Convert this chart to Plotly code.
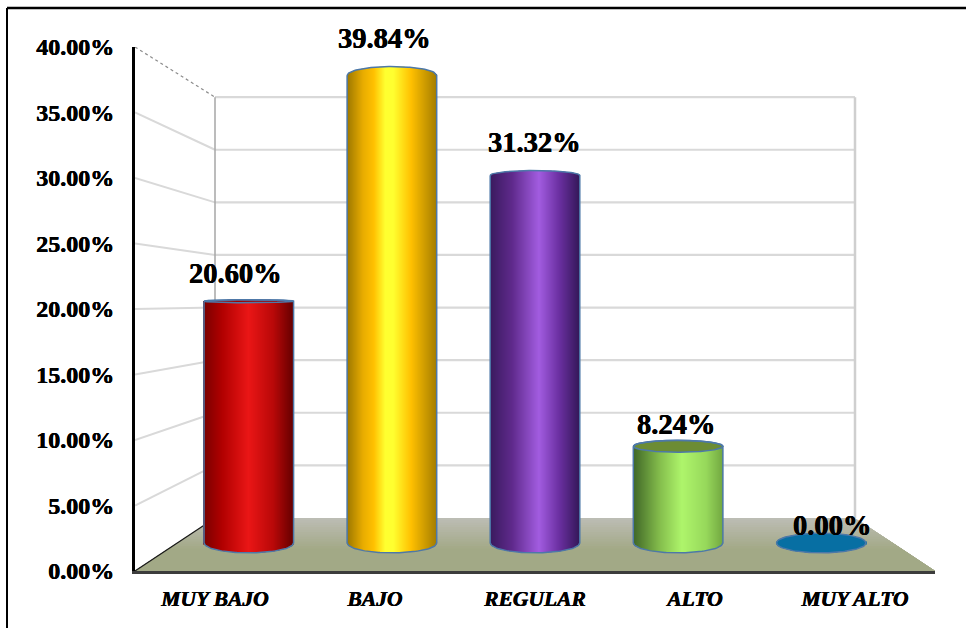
import numpy as np
import plotly.graph_objects as go

# Survey result: share of respondents per level
CATEGORIES = ["MUY BAJO", "BAJO", "REGULAR", "ALTO", "MUY ALTO"]
PERCENTAGES = [20.60, 39.84, 31.32, 8.24, 0.00]
Y_TICKS = [0, 5, 10, 15, 20, 25, 30, 35, 40]
Y_TICK_LABELS = ["0.00%", "5.00%", "10.00%", "15.00%", "20.00%", "25.00%", "30.00%", "35.00%", "40.00%"]

# Label offsets from the top of each cylinder, in pixels
LABEL_DX = [-13, -7, -1, -2, 11]

# Cylinder shading: (position across the body, colour), plus top-cap colour
SHADES = [
    ([(0, "#7a0000"), (0.2, "#b00000"), (0.5, "#ea1616"), (0.78, "#b80808"), (1, "#660000")], "#a00000"),
    ([(0, "#9c7700"), (0.18, "#e8ac00"), (0.3, "#ffc000"), (0.43, "#ffff30"), (0.52, "#ffff30"), (0.72, "#ffc000"), (1, "#a67e00")], "#c89600"),
    ([(0, "#3a1a5e"), (0.25, "#5f2a8c"), (0.55, "#a25ce0"), (0.78, "#6a2fa0"), (1, "#35185a")], "#5f2a8c"),
    ([(0, "#3f6626"), (0.3, "#84bd4c"), (0.55, "#aef56b"), (0.82, "#97d85b"), (1, "#74aa42")], "#6c8c34"),
    ([(0, "#076fa3"), (1, "#076fa3")], "#076fa3"),
]
OUTLINE = "#4d78a8"
HEAVY = "0.35px 0 0 #000000, -0.3px 0 0 #000000"

# Oblique projection of the chart box: depth 0 is the front plane, depth 1 the back wall
SHRINK_X, SHRINK_Y, FLOOR_RISE = 0.2, 0.197, 4.05
BAR_DEPTH = 0.528
BAR_HALF = 0.28
PX_PER_UNIT = 13.1
EYE_LEVEL, TILT = 21.0, 0.47


def proj_x(x, d):
    return 2 + (x - 2) * (1 - SHRINK_X * d)


def proj_y(v, d):
    return FLOOR_RISE * d + v * (1 - SHRINK_Y * d)


def hex_rgb(c):
    return np.array([int(c[i:i + 2], 16) for i in (1, 3, 5)], dtype=float)


def shade(stops, t):
    pos = [s[0] for s in stops]
    rgb = [hex_rgb(s[1]) for s in stops]
    vals = [np.interp(t, pos, [c[k] for c in rgb]) for k in range(3)]
    return "rgb(%d,%d,%d)" % tuple(int(round(x)) for x in vals)


def lines(xs, ys, color, width, dash="solid", front=False):
    return go.Scatter(x=xs, y=ys, mode="lines", line=dict(color=color, width=width, dash=dash),
                      xaxis="x2" if front else "x", yaxis="y2" if front else "y",
                      hoverinfo="skip", showlegend=False)


fig = go.Figure()

# Floor, painted back to front so the shading bands overlap cleanly
FLOOR_BANDS = 14
for k in range(FLOOR_BANDS):
    d = 1 - k / FLOOR_BANDS * 0.62
    f = k / (FLOOR_BANDS - 1)
    col = "rgb(%d,%d,%d)" % (188 - 26 * f, 189 - 20 * f, 180 - 46 * f)
    fig.add_trace(go.Scatter(
        x=[proj_x(-0.5, d), proj_x(4.5, d), proj_x(4.5, 0), proj_x(-0.5, 0), proj_x(-0.5, d)],
        y=[proj_y(0, d), proj_y(0, d), proj_y(0, 0), proj_y(0, 0), proj_y(0, d)],
        mode="lines", fill="toself", fillcolor=col, line=dict(width=0), hoverinfo="skip", showlegend=False))

# Side-wall and back-wall gridlines
for v in Y_TICKS[1:]:
    if v < 40:
        fig.add_trace(lines([proj_x(-0.5, 0), proj_x(-0.5, 1)], [proj_y(v, 0), proj_y(v, 1)], "#d9d9d9", 2))
    fig.add_trace(lines([proj_x(-0.5, 1), proj_x(4.5, 1)], [proj_y(v, 1), proj_y(v, 1)], "#d9d9d9", 2.2))
fig.add_trace(lines([proj_x(4.5, 1)] * 2, [proj_y(0, 1), proj_y(40, 1)], "#cfcfcf", 2.5))
fig.add_trace(lines([proj_x(-0.5, 1)] * 2, [proj_y(0, 1), proj_y(40, 1)], "#a6a6a6", 1.5))
fig.add_trace(lines([proj_x(-0.5, 0), proj_x(-0.5, 1)], [proj_y(40, 0), proj_y(40, 1)], "#8c8c8c", 1.2, "dot"))
fig.add_trace(lines([proj_x(-0.5, 0), proj_x(-0.5, 1)], [proj_y(0, 0), proj_y(0, 1)], "#1a1a1a", 1.2))

# Cylinders, on an overlaying pair of axes so they sit in front of the walls and floor
STRIPS = 89
ts = (np.arange(STRIPS) + 0.5) / STRIPS
arc = np.linspace(-1, 1, 61)
annotations = []
for i, (name, value) in enumerate(zip(CATEGORIES, PERCENTAGES)):
    stops, cap_col = SHADES[i]
    cx = proj_x(i, BAR_DEPTH)
    y_base, y_top = proj_y(0, BAR_DEPTH), proj_y(value, BAR_DEPTH)
    ry_base = TILT * EYE_LEVEL / PX_PER_UNIT
    ry_top = max(TILT * abs(value - EYE_LEVEL), 1.5) / PX_PER_UNIT

    u = 2 * ts - 1
    bottoms = y_base - ry_base * np.sqrt(1 - u ** 2)
    tops = y_top + ry_top * np.sqrt(1 - u ** 2)
    fig.add_trace(go.Bar(
        x=cx + BAR_HALF * u, y=tops - bottoms, base=bottoms,
        width=2 * BAR_HALF / STRIPS,
        xaxis="x2", yaxis="y2",
        marker=dict(color=[shade(stops, t) for t in ts], line=dict(width=0)),
        hoverinfo="skip", showlegend=False))

    # Visible top face when the cylinder ends below eye level
    if value < EYE_LEVEL:
        ex = cx + BAR_HALF * np.concatenate([arc, arc[::-1]])
        ey = y_top + ry_top * np.concatenate([np.sqrt(1 - arc ** 2), -np.sqrt(1 - arc ** 2)])
        fig.add_trace(go.Scatter(x=ex, y=ey, mode="lines", fill="toself", fillcolor=cap_col,
                                 xaxis="x2", yaxis="y2",
                                 line=dict(color=OUTLINE, width=1.5), hoverinfo="skip", showlegend=False))
    if value > 0:
        ox = cx + BAR_HALF * np.concatenate([[-1], arc, [1], arc[::-1], [-1]])
        oy = np.concatenate([[y_top], y_base - ry_base * np.sqrt(1 - arc ** 2), [y_top],
                             y_top + ry_top * np.sqrt(1 - arc[::-1] ** 2), [y_top]])
        fig.add_trace(lines(ox, oy, OUTLINE, 1.5, front=True))

    annotations.append(dict(
        x=cx, y=y_top, xref="x", yref="y", text="<b>%.2f%%</b>" % value, showarrow=False,
        xshift=LABEL_DX[i], yshift=17.5 + 0.49 * value,
        font=dict(family="Liberation Serif", size=28.5, color="#000000", shadow=HEAVY),
        xanchor="center", yanchor="middle"))

fig.update_layout(
    width=966, height=628,
    margin=dict(l=135, r=31, t=47, b=57, autoexpand=False),
    paper_bgcolor="#ffffff", plot_bgcolor="#ffffff",
    barmode="overlay", showlegend=False,
    annotations=annotations,
    xaxis=dict(range=[-0.5, 4.5], tickmode="array", tickvals=list(range(5)),
               ticktext=["<b><i>%s</i></b>" % c for c in CATEGORIES],
               tickfont=dict(family="Liberation Serif", size=21.5, color="#000000", shadow=HEAVY),
               ticks="outside", ticklen=6, tickcolor="rgba(0,0,0,0)",
               showgrid=False, zeroline=False, showline=True, linecolor="#3c3c3c", linewidth=3),
    yaxis=dict(range=[0, 40], tickmode="array", tickvals=Y_TICKS,
               ticktext=["<b>%s</b>" % t for t in Y_TICK_LABELS],
               tickfont=dict(family="Liberation Serif", size=24, color="#000000", shadow=HEAVY),
               ticks="outside", ticklen=13, tickcolor="rgba(0,0,0,0)",
               showgrid=False, zeroline=False, showline=True, linecolor="#000000", linewidth=3),
    xaxis2=dict(range=[-0.5, 4.5], overlaying="x", visible=False),
    yaxis2=dict(range=[0, 40], overlaying="y", visible=False),
    # Outer frame along the top and left of the page
    shapes=[
        dict(type="line", xref="paper", yref="paper", x0=-128 / 800, x1=831 / 800, y0=563 / 524, y1=563 / 524,
             line=dict(color="#000000", width=2.5)),
        dict(type="line", xref="paper", yref="paper", x0=-128 / 800, x1=-128 / 800, y0=563 / 524, y1=-57 / 524,
             line=dict(color="#000000", width=2)),
    ],
)

fig.write_html("out.html", config=dict(displayModeBar=False))
